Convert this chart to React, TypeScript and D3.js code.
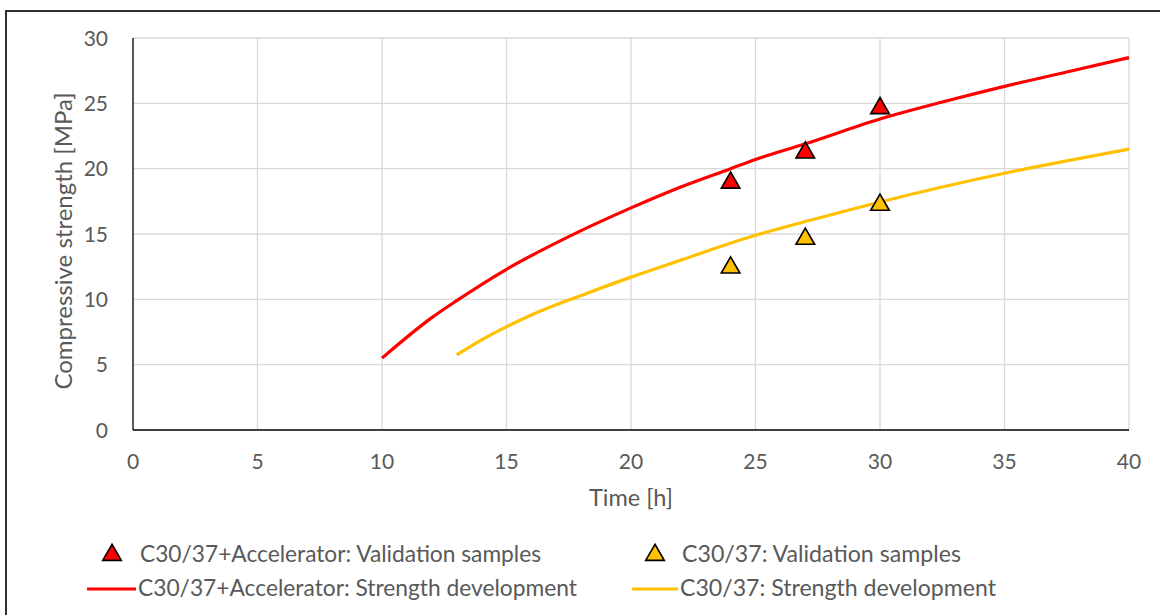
import * as d3 from "d3";

// Time [h] and strength [MPa]
const accelTime = [10, 12, 13, 15, 17.5, 20, 22, 24, 25, 27, 30, 32.5, 35, 37.5, 40];
const accelStrength = [5.5, 8.6, 9.9, 12.3, 14.8, 17.0, 18.6, 20.0, 20.7, 21.9, 23.8, 25.1, 26.3, 27.4, 28.5];

const plainTime = [13, 14, 16, 18, 20, 22, 25, 27.5, 30, 32.5, 35, 37.5, 40];
const plainStrength = [5.75, 6.9, 8.8, 10.3, 11.7, 13.0, 14.9, 16.2, 17.45, 18.6, 19.65, 20.6, 21.5];

const sampleTime = [24, 27, 30];
const accelSamples = [19.0, 21.3, 24.7];
const plainSamples = [12.5, 14.7, 17.3];

const xTicks = [0, 5, 10, 15, 20, 25, 30, 35, 40];
const yTicks = [0, 5, 10, 15, 20, 25, 30];

const RED = "#ff0000";
const GOLD = "#ffc000";
const TEXT = "#595959";
const FONT = "Lato, 'Open Sans', sans-serif";

const W = 1160;
const H = 615;
const margin = { left: 133, right: 30, top: 38, bottom: 185 };

const x = d3.scaleLinear().domain([0, 40]).range([margin.left, W - margin.right - 1]);
const y = d3.scaleLinear().domain([0, 30]).range([H - margin.bottom, margin.top]);

const line = d3
  .line<[number, number]>()
  .x((d) => x(d[0]))
  .y((d) => y(d[1]))
  .curve(d3.curveMonotoneX);

const tri = d3.symbol().type(d3.symbolTriangle).size(150);

const Marker = ({ cx, cy, fill }: { cx: number; cy: number; fill: string }) => (
  <path d={tri() as string} transform={`translate(${cx},${cy + 1})`} fill={fill} stroke="#000" strokeWidth={1.6} />
);

const LegendText = ({ x0, y0, width, label }: { x0: number; y0: number; width: number; label: string }) => (
  <text x={x0} y={y0} fontSize={23} fill={TEXT} textLength={width} lengthAdjust="spacingAndGlyphs">
    {label}
  </text>
);

export default function App() {
  const accelPts = accelTime.map((t, i) => [t, accelStrength[i]] as [number, number]);
  const plainPts = plainTime.map((t, i) => [t, plainStrength[i]] as [number, number]);

  return (
    <svg
      width={W}
      height={H}
      style={{ position: "absolute", left: 0, top: 0, background: "#fff" }}
      fontFamily={FONT}
    >
      <rect x={6} y={11} width={W + 20} height={H + 20} fill="#fff" stroke="#1a1a1a" strokeWidth={1.8} />

      {/* grid */}
      {xTicks.slice(1).map((t) => (
        <line key={"gx" + t} x1={x(t)} x2={x(t)} y1={y(0)} y2={y(30)} stroke="#d9d9d9" strokeWidth={1.3} />
      ))}
      {yTicks.slice(1).map((t) => (
        <line key={"gy" + t} x1={x(0)} x2={x(40)} y1={y(t)} y2={y(t)} stroke="#d9d9d9" strokeWidth={1.3} />
      ))}

      {/* axes */}
      <line x1={x(0)} x2={x(0)} y1={y(0)} y2={y(30)} stroke="#000" strokeWidth={1.3} />
      <line x1={x(0)} x2={x(40)} y1={y(0)} y2={y(0)} stroke="#000" strokeWidth={1.3} />

      {yTicks.map((t) => (
        <text key={"yl" + t} x={108} y={y(t) + 7.5} textAnchor="end" fontSize={21} fill={TEXT}>
          {t}
        </text>
      ))}
      {xTicks.map((t) => (
        <text key={"xl" + t} x={x(t)} y={469} textAnchor="middle" fontSize={21} fill={TEXT}>
          {t}
        </text>
      ))}

      <text x={x(20)} y={506} textAnchor="middle" fontSize={23.5} fill={TEXT}>
        Time [h]
      </text>
      <text
        transform={`translate(${72},${241}) rotate(-90)`}
        textAnchor="middle"
        fontSize={24}
        fill={TEXT}
      >
        Compressive strength [MPa]
      </text>

      {/* series */}
      <path d={line(accelPts) as string} fill="none" stroke={RED} strokeWidth={3.2} />
      <path d={line(plainPts) as string} fill="none" stroke={GOLD} strokeWidth={3.2} />

      {sampleTime.map((t, i) => (
        <Marker key={"a" + t} cx={x(t)} cy={y(accelSamples[i])} fill={RED} />
      ))}
      {sampleTime.map((t, i) => (
        <Marker key={"p" + t} cx={x(t)} cy={y(plainSamples[i])} fill={GOLD} />
      ))}

      {/* legend */}
      <Marker cx={112} cy={554} fill={RED} />
      <LegendText x0={140} y0={562} width={401} label="C30/37+Accelerator: Validation samples" />
      <line x1={87} x2={136} y1={589} y2={589} stroke={RED} strokeWidth={3.2} />
      <LegendText x0={138} y0={596} width={439} label="C30/37+Accelerator: Strength development" />

      <Marker cx={655} cy={554} fill={GOLD} />
      <LegendText x0={682} y0={562} width={279} label="C30/37: Validation samples" />
      <line x1={632} x2={678} y1={589} y2={589} stroke={GOLD} strokeWidth={3.2} />
      <LegendText x0={680} y0={596} width={316} label="C30/37: Strength development" />
    </svg>
  );
}
